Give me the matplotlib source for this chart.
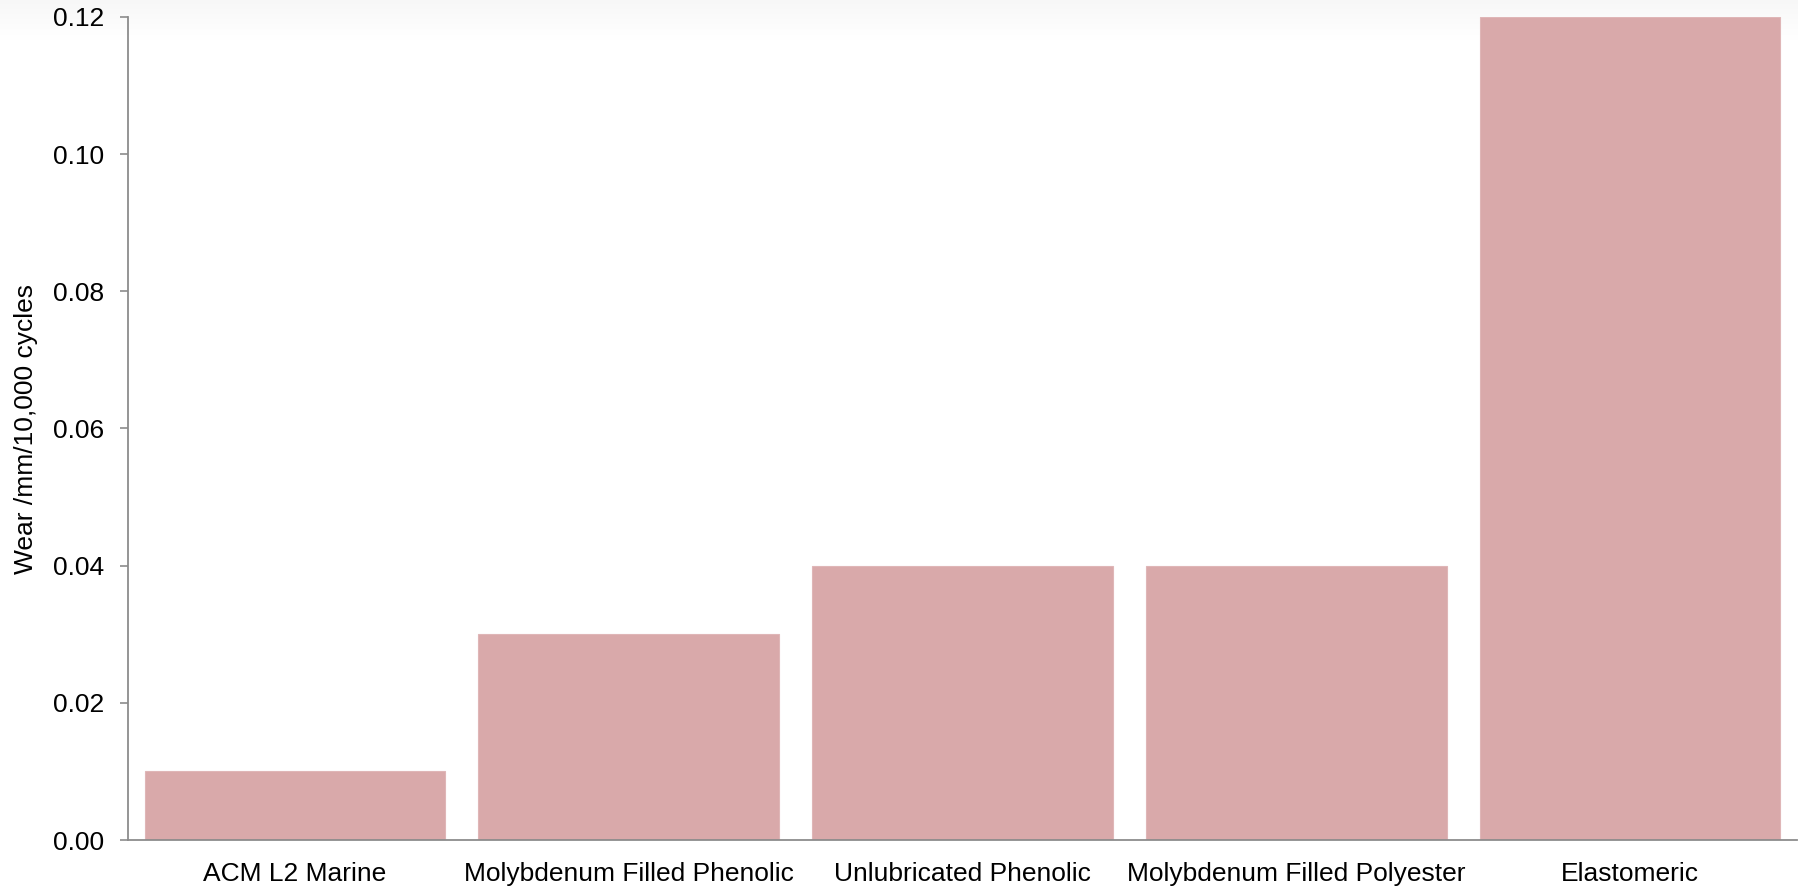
import numpy as np
import matplotlib.pyplot as plt

materials = ['ACM L2 Marine', 'Molybdenum Filled Phenolic', 'Unlubricated Phenolic',
             'Molybdenum Filled Polyester', 'Elastomeric']
wear = [0.01, 0.03, 0.04, 0.04, 0.12]
y_ticks = [0.00, 0.02, 0.04, 0.06, 0.08, 0.10, 0.12]

plt.rcParams['font.family'] = ['Liberation Sans', 'DejaVu Sans']

W, H = 1799, 888
fig = plt.figure(figsize=(W / 100, H / 100), dpi=100)

# faint grey band at the very top
grad = fig.add_axes([0, 1 - 40 / H, 1, 40 / H], zorder=-1)
g = np.linspace(0.97, 1.0, 64).reshape(-1, 1)
grad.imshow(np.dstack([g, g, g]), aspect='auto', extent=[0, 1, 0, 1])
grad.axis('off')

ax_w = (1797 - 128) / W
ax = fig.add_axes([128 / W, 1 - 840 / H, ax_w, (840 - 17) / H])
ax.patch.set_alpha(0)

x = np.arange(len(materials))
ax.bar(x, wear, width=0.9, color='#d9a9aa', edgecolor='#dfb6b7', linewidth=0.8)

ax.set_xlim(-0.5, len(materials) - 0.5)
ax.set_ylim(0, 0.12)
ax.set_yticks(y_ticks)
ax.set_yticklabels(['%.2f' % v for v in y_ticks])
ax.set_xticks(x)
ax.set_xticklabels(materials)

for s in ['top', 'right']:
    ax.spines[s].set_visible(False)
for s in ['left', 'bottom']:
    ax.spines[s].set_color('#8c8c8c')
    ax.spines[s].set_linewidth(1.3)

ax.tick_params(axis='y', length=6, width=1.2, color='#8c8c8c', pad=11, labelsize=19)
ax.tick_params(axis='x', length=0, pad=16, labelsize=19)

ax.set_ylabel('Wear /mm/10,000 cycles', fontsize=19)
# label centre sits about 87 px left of the y axis
ax.yaxis.set_label_coords(-(128 - 38) / (1797 - 128), 0.5)

fig.savefig('out.png', dpi=100)
